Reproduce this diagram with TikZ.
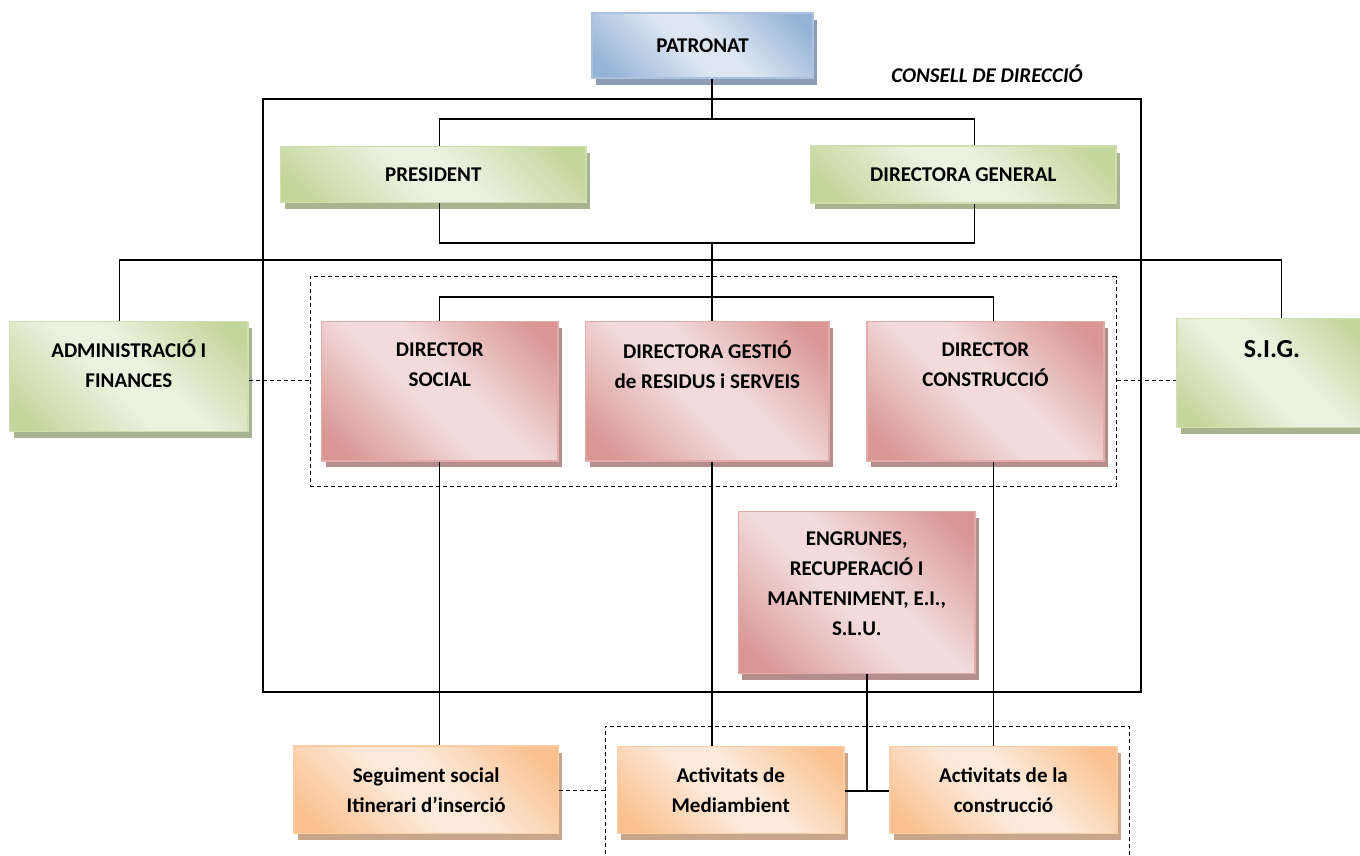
\documentclass[tikz,border=0pt]{standalone}
\usepackage{fontspec}
\setmainfont{Carlito}
\usetikzlibrary{shadows}

\definecolor{gdark}{RGB}{195,214,155}
\definecolor{glight}{RGB}{236,242,224}
\definecolor{rdark}{RGB}{217,150,148}
\definecolor{rlight}{RGB}{242,220,219}
\definecolor{bdark}{RGB}{149,179,215}
\definecolor{blight}{RGB}{220,230,242}
\definecolor{odark}{RGB}{250,192,143}
\definecolor{olight}{RGB}{253,234,218}

\pgfdeclarehorizontalshading{gband}{100bp}{color(0bp)=(gdark); color(20bp)=(gdark); color(45bp)=(glight); color(55bp)=(glight); color(80bp)=(gdark); color(100bp)=(gdark)}
\pgfdeclarehorizontalshading{rband}{100bp}{color(0bp)=(rdark); color(20bp)=(rdark); color(45bp)=(rlight); color(55bp)=(rlight); color(80bp)=(rdark); color(100bp)=(rdark)}
\pgfdeclarehorizontalshading{bband}{100bp}{color(0bp)=(bdark); color(20bp)=(bdark); color(45bp)=(blight); color(55bp)=(blight); color(80bp)=(bdark); color(100bp)=(bdark)}
\pgfdeclarehorizontalshading{oband}{100bp}{color(0bp)=(odark); color(20bp)=(odark); color(45bp)=(olight); color(55bp)=(olight); color(80bp)=(odark); color(100bp)=(odark)}

\tikzset{
  box/.style={rectangle, inner sep=0pt, shading=#1band, shading angle=45,
    draw=#1dark!80!white, line width=1.5pt,
    drop shadow={shadow xshift=4pt, shadow yshift=-6.5pt, fill=#1dark!60!gray, opacity=1}},
  txt/.style={font=\fontsize{21}{30}\selectfont\bfseries, align=center, inner sep=0pt},
  link/.style={line width=1.7pt},
  dashline/.style={line width=1pt, dash pattern=on 4pt off 3pt},
  frame/.style={rectangle, inner sep=0pt},
}

\begin{document}
\begin{tikzpicture}[x=1pt, y=-1pt]
  \useasboundingbox (0,0) rectangle (1360,855);

  % frames
  \node[frame, draw, line width=2.2pt, minimum width=878pt, minimum height=592.4pt] (cdir) at (702,395.5) {};
  \node[font=\fontsize{21}{30}\selectfont\bfseries\itshape, inner sep=0pt] (cdirtxt) at (987,74) {CONSELL DE DIRECCIÓ};
  \node[frame, draw, dashline, minimum width=806pt, minimum height=209.3pt] (grp) at (713,381.4) {};
  \node[frame, draw, dashline, minimum width=524.5pt, minimum height=150pt] (act) at (867.3,801) {};

  % boxes
  \node[box=b, txt, minimum width=221pt, minimum height=65pt] (patr) at (702.5,45.5) {PATRONAT};
  \node[box=g, txt, minimum width=305.4pt, minimum height=56pt] (pres) at (433.3,174.7) {PRESIDENT};
  \node[box=g, txt, minimum width=305.3pt, minimum height=56.7pt] (dgen) at (963.3,174.4) {DIRECTORA GENERAL};
  \node[box=g, minimum width=238.4pt, minimum height=110pt,
    label={[txt, yshift=12.7pt]center:ADMINISTRACIÓ I\\FINANCES}] (admin) at (128.8,376.7) {};
  \node[box=r, minimum width=236.5pt, minimum height=139.3pt,
    label={[txt, yshift=27pt]center:DIRECTOR\\SOCIAL}] (dsoc) at (439.8,391.3) {};
  \node[box=r, minimum width=243.5pt, minimum height=139.3pt,
    label={[txt, yshift=27pt]center:DIRECTORA GESTIÓ\\de RESIDUS i SERVEIS}] (dgest) at (707.3,391.3) {};
  \node[box=r, minimum width=236.7pt, minimum height=139.3pt,
    label={[txt, yshift=27pt]center:DIRECTOR\\CONSTRUCCIÓ}] (dcons) at (985.4,391.3) {};
  \node[box=g, minimum width=190pt, minimum height=109pt,
    label={[txt, font=\fontsize{26}{30}\selectfont\bfseries, yshift=24pt]center:S.I.G.}] (sig) at (1272,372.8) {};
  \node[box=r, minimum width=236.7pt, minimum height=161.6pt,
    label={[txt, yshift=9pt]center:{ENGRUNES,\\RECUPERACIÓ I\\MANTENIMENT, E.I.,\\S.L.U.}}] (engr) at (856.7,592.5) {};
  \node[box=o, txt, minimum width=264.3pt, minimum height=87.3pt] (seg) at (426.2,789.7) {Seguiment social\\Itinerari d’inserció};
  \node[box=o, txt, minimum width=226.7pt, minimum height=86.6pt] (med) at (730.7,790) {Activitats de\\Mediambient};
  \node[box=o, txt, minimum width=227pt, minimum height=86.6pt] (cons) at (1003.5,790) {Activitats de la\\construcció};

  % junctions
  \coordinate (jtop) at (712,119);
  \coordinate (jbot) at (712,243);
  \coordinate (jdir) at (712,296.7);
  \coordinate (bkl) at (439.5,119);
  \coordinate (bkr) at (974.5,119);
  \coordinate (bkl2) at (439.5,243);
  \coordinate (bkr2) at (974.5,243);
  \coordinate (sl) at (119.4,260);
  \coordinate (sr) at (1281.5,260);
  \coordinate (dl) at (439.5,296.7);
  \coordinate (dr) at (993.5,296.7);
  \coordinate (jact) at (867,790.7);
  \coordinate (dy) at (0,380);

  % links
  \draw[link] (patr.south -| jtop) -- (jtop);
  \draw[link] (pres.north -| bkl) -- (bkl) -- (bkr) -- (dgen.north -| bkr);
  \draw[link] (pres.south -| bkl) -- (bkl2) -- (bkr2) -- (dgen.south -| bkr);
  \draw[link] (jbot) -- (jdir);
  \draw[link] (admin.north -| sl) -- (sl) -- (sr) -- (sig.north -| sr);
  \draw[link] (dsoc.north -| dl) -- (dl) -- (dr) -- (dcons.north -| dr);
  \draw[link] (jdir) -- (dgest.north -| jdir);
  \draw[link] (dsoc.south -| dl) -- (seg.north -| dl);
  \draw[link] (dgest.south -| jdir) -- (med.north -| jdir);
  \draw[link] (dcons.south -| dr) -- (cons.north -| dr);
  \draw[link] (engr.south -| jact) -- (jact);
  \draw[link] (med.east |- jact) -- (cons.west |- jact);

  \draw[dashline] (admin.east |- dy) -- (grp.west |- dy);
  \draw[dashline] (grp.east |- dy) -- (sig.west |- dy);
  \draw[dashline] (seg.east |- jact) -- (act.west |- jact);
\end{tikzpicture}
\end{document}
